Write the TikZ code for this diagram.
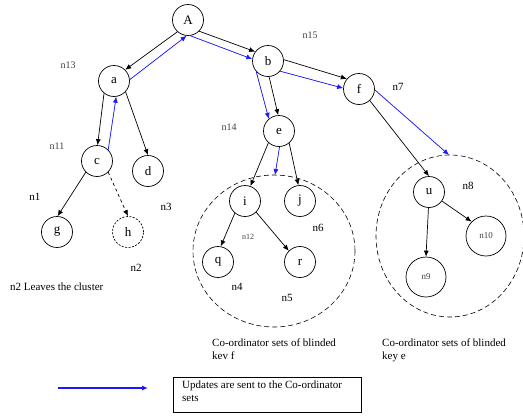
\documentclass[tikz,border=0pt]{standalone}
\usepackage{fontspec}
\setmainfont{Liberation Serif}
\usetikzlibrary{arrows.meta}
\begin{document}
\begin{tikzpicture}[x=1pt,y=-1pt,
  nd/.style={circle,draw,line width=0.7pt,minimum size=31pt,inner sep=0pt,font=\fontsize{13}{13}\selectfont},
  bignd/.style={nd,minimum size=40pt,font=\fontsize{9}{9}\selectfont,text=black!75},
  gone/.style={nd,dash pattern=on 2pt off 1.5pt},
  edge/.style={line width=0.7pt,-{Latex[length=6pt,width=5pt]}},
  upd/.style={edge,draw=blue!90!white,fill=blue!90!white},
  lbl/.style={font=\fontsize{10}{10}\selectfont,inner sep=0pt,text=black!75},
  lblb/.style={font=\fontsize{11}{11}\selectfont,inner sep=0pt},
  txt/.style={font=\fontsize{11}{13}\selectfont,inner sep=0pt,align=left,anchor=west},
  cluster/.style={draw,line width=0.6pt,dash pattern=on 5pt off 3pt}
]
\useasboundingbox (0,0) rectangle (523,418);
% clusters
\draw[cluster] (274,251) ellipse [x radius=81,y radius=76];
\draw[cluster] (450,236) ellipse [x radius=74,y radius=81];
\coordinate (top1) at (275,175);
\coordinate (top2) at (449,155);
% nodes
\node[nd] (A) at (188,20) {A};
\node[nd] (a) at (114,81) {a};
\node[nd] (b) at (268,61) {b};
\node[nd] (f) at (359,89) {f};
\node[nd] (e) at (279,131) {e};
\node[nd] (c) at (97,161) {c};
\node[nd] (d) at (148,171) {d};
\node[nd] (g) at (57,232) {g};
\node[gone] (h) at (128,232) {h};
\node[nd] (i) at (245,201) {i};
\node[nd] (j) at (300,201) {j};
\node[nd] (q) at (218,262) {q};
\node[nd] (r) at (300,262) {r};
\node[nd] (u) at (429,192) {u};
\node[bignd] (n10) at (486,236) {n10};
\node[bignd] (n9) at (426,277) {n9};
% black edges
\draw[edge] (A.-132) -- (a.45);
\draw[edge] (A.-45) -- (b.144);
\draw[edge] (b.5) -- (f.140);
\draw[edge] (b.-86) -- (e.93);
\draw[edge] (e.-132) -- (i.70);
\draw[edge] (e.-50) -- (j.96);
\draw[edge] (f.-47) -- (u.north);
\draw[edge] (a.-129) -- (c.88);
\draw[edge] (a.-43) -- (d.north);
\draw[edge] (c.-135) -- (g.88);
\draw[edge,dashed] (c.-45) -- (h.north);
\draw[edge] (i.-130) -- (q.80);
\draw[edge] (i.-45) -- (r.135);
\draw[edge] (u.-92) -- (n9.north);
\draw[edge] (u.-35) -- (n10.135);
% blue update edges
\draw[upd] (a.5) -- (A.-95);
\draw[upd] (c.45) -- (a.-82);
\draw[upd] (A.-82) -- (b.173);
\draw[upd] (b.-138) -- (e.130);
\draw[upd] (b.-40) -- (f.177);
\draw[upd] (e.-88) -- (top1);
\draw[upd] (f.-3) -- (top2);
% labels
\node[lbl] (l13) at (68,65) {n13};
\node[lbl] (l15) at (310,35) {n15};
\node[lblb] (l7) at (398,87) {n7};
\node[lbl] (l14) at (229,127) {n14};
\node[lbl] (l11) at (57,146) {n11};
\node[lblb] (l1) at (35,197) {n1};
\node[lblb] (l3) at (166,207) {n3};
\node[lblb] (l2) at (136,268) {n2};
\node[font=\fontsize{8}{8}\selectfont,inner sep=0pt,text=black!75] (l12) at (248,237) {n12};
\node[lblb] (l6) at (318,228) {n6};
\node[lblb] (l8) at (468,186) {n8};
\node[lblb] (l4) at (237,287) {n4};
\node[lblb] (l5) at (287,298) {n5};
\node[txt] (leave) at (10,287) {n2 Leaves the cluster};
\node[txt,anchor=north west] (cf) at (212,339) {Co-ordinator sets of blinded\\kev f};
\node[txt,anchor=north west] (ce) at (382,339) {Co-ordinator sets of blinded\\key e};
% legend
\coordinate (ls) at (58,388);
\coordinate (le) at (148,388);
\draw[upd,line width=1.1pt] (ls) -- (le);
\node[draw,line width=0.7pt,minimum width=188pt,minimum height=35pt,anchor=north west,inner sep=0pt] (box) at (173,377) {};
\node[txt,anchor=north west] (boxt) at (182,381) {Updates are sent to the Co-ordinator\\sets};
\end{tikzpicture}
\end{document}
